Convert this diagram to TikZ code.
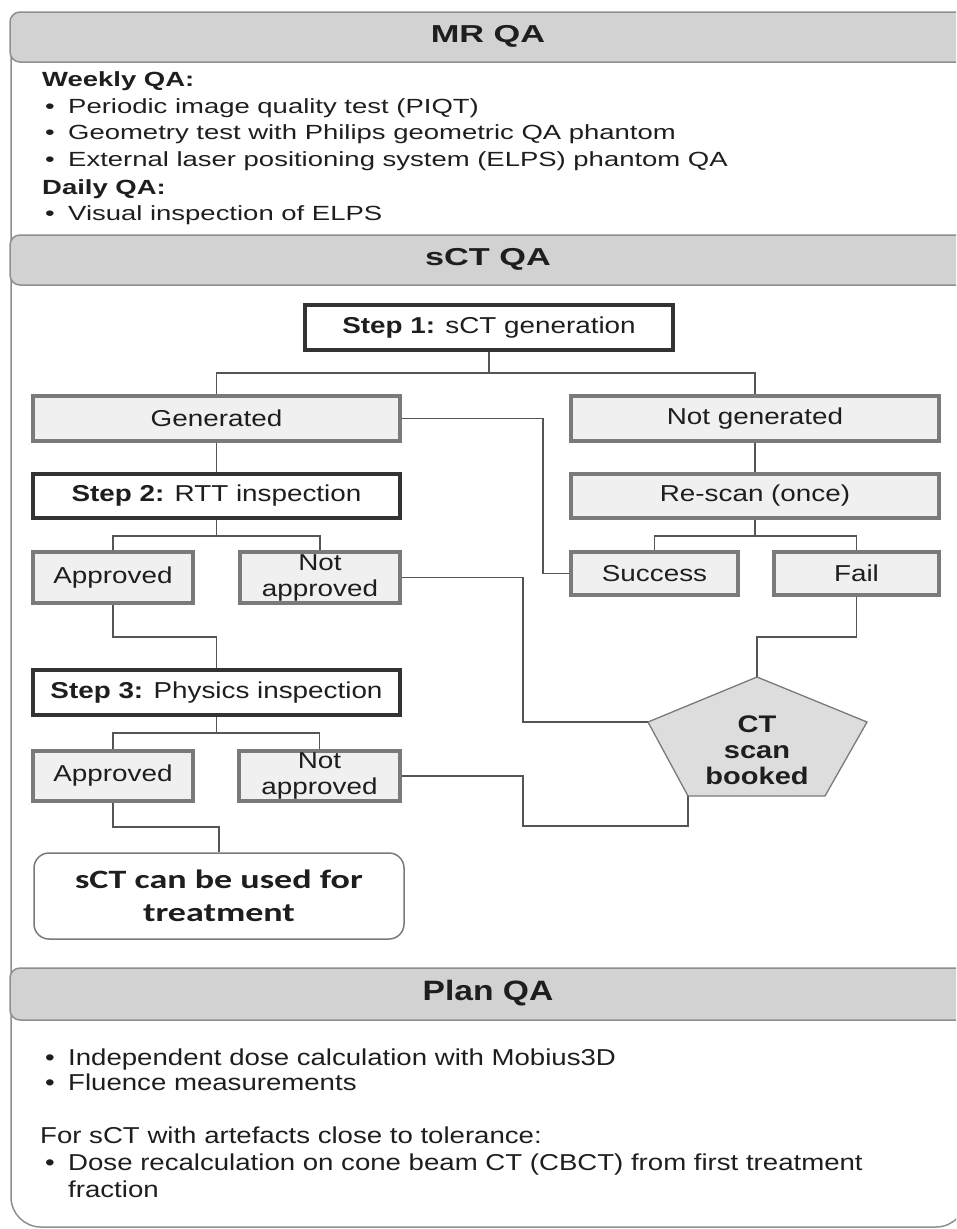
\documentclass[tikz,border=0pt]{standalone}
\usepackage{fontspec}
\setmainfont{Liberation Sans}
\newfontfamily\mrfont{Liberation Sans}[FakeStretch=1.34]
\newfontfamily\flowfont{Liberation Sans}[FakeStretch=1.21]
\newfontfamily\planfont{Liberation Sans}[FakeStretch=1.2]
\newfontfamily\hdfont{Liberation Sans}[FakeStretch=1.4]
\newfontfamily\planhdfont{Liberation Sans}[FakeStretch=1.2]
\newfontfamily\calfont{Carlito}[FakeStretch=1.36]
\definecolor{hdfill}{HTML}{D2D2D2}
\definecolor{hdline}{HTML}{8F8F8F}
\definecolor{boxfill}{HTML}{F0F0F0}
\definecolor{boxline}{HTML}{7A7A7A}
\definecolor{stepline}{HTML}{333333}
\definecolor{connc}{HTML}{555555}
\definecolor{txt}{HTML}{1E1E1E}
\definecolor{pentfill}{HTML}{DDDDDD}
\begin{document}
\begin{tikzpicture}[x=1pt,y=-1pt,
  header/.style={draw=hdline, line width=1.5pt, fill=hdfill, rounded corners=10pt},
  hdtext/.style={font=\hdfont\bfseries\fontsize{24.5}{28}\selectfont, text=txt, inner sep=0},
  mrline/.style={anchor=base west, inner sep=0, text=txt, font=\mrfont\fontsize{20.5}{27}\selectfont},
  planline/.style={anchor=base west, inner sep=0, text=txt, font=\planfont\fontsize{23}{27}\selectfont},
  stepbox/.style={draw=stepline, line width=4pt, fill=white, inner sep=0, text=txt,
     font=\flowfont\fontsize{23}{27}\selectfont, minimum width=367pt, minimum height=45pt},
  graybox/.style={draw=boxline, line width=4pt, fill=boxfill, inner sep=0, text=txt, align=center,
     font=\flowfont\fontsize{23}{26}\selectfont, minimum width=367pt, minimum height=45pt},
  smallbox/.style={graybox, minimum width=160pt, minimum height=51pt},
  conn/.style={draw=connc, line width=1.5pt},
  endbox/.style={draw=boxline, line width=1.5pt, fill=white, rounded corners=15pt, align=center,
     minimum width=370pt, minimum height=86pt, inner sep=0, text=txt,
     font=\calfont\bfseries\fontsize{26.5}{33}\selectfont}
]
\useasboundingbox (0,0) rectangle (956,1229);
\clip (0,0) rectangle (956,1229);

% outer frame
\draw[draw=hdline, line width=1.5pt, rounded corners=30pt] (11,30) -- (11,1227) -- (966,1227) -- (966,30);

% headers
\draw[header] (10,12) rectangle (990,62);
\node[hdtext] (hmr) at (488,36) {MR QA};
\draw[header] (10,235) rectangle (990,285);
\node[hdtext] (hsct) at (488,259) {sCT QA};
\draw[header] (10,968) rectangle (990,1020);
\node[hdtext, font=\planhdfont\bfseries\fontsize{28}{30}\selectfont] (hplan) at (488,993) {Plan QA};

% MR QA text
\node[mrline] (mr1) at (42,86) {\bfseries Weekly QA:};
\node[mrline] (mr2) at (45,113) {\makebox[23pt][l]{•}Periodic image quality test (PIQT)};
\node[mrline] (mr3) at (45,139) {\makebox[23pt][l]{•}Geometry test with Philips geometric QA phantom};
\node[mrline] (mr4) at (45,166) {\makebox[23pt][l]{•}External laser positioning system (ELPS) phantom QA};
\node[mrline] (mr5) at (42,194) {\bfseries Daily QA:};
\node[mrline] (mr6) at (45,220) {\makebox[23pt][l]{•}Visual inspection of ELPS};

% flow chart
\node[stepbox, minimum width=368pt] (step1) at (489,327.5) {\textbf{Step 1:} sCT generation};
\node[graybox] (gen) at (216.5,418.5) {Generated};
\node[graybox, minimum width=368pt] (notgen) at (755,418.5) {Not generated};
\node[stepbox, minimum height=44pt] (step2) at (216.5,496) {\textbf{Step 2:} RTT inspection};
\node[graybox, minimum width=368pt, minimum height=44pt] (rescan) at (755,496) {Re-scan (once)};
\node[smallbox] (app1) at (113,577.5) {Approved};
\node[smallbox] (napp1) at (320,577.5) {Not\\approved};
\node[smallbox, minimum width=167pt, minimum height=43pt] (succ) at (654.5,573.5) {Success};
\node[smallbox, minimum width=165pt, minimum height=43pt] (fail) at (856.5,573.5) {Fail};
\node[stepbox] (step3) at (216.5,692.5) {\textbf{Step 3:} Physics inspection};
\node[smallbox, minimum height=50pt] (app2) at (113,776) {Approved};
\node[smallbox, minimum width=161pt, minimum height=50pt] (napp2) at (319.5,776) {Not\\approved};
\node[endbox] (final) at (219,896) {sCT can be used for\\treatment};

% pentagon
\coordinate (pTop) at (757,677);
\coordinate (pLeft) at (648,722);
\coordinate (pRight) at (867,722);
\coordinate (pBR) at (825,796);
\coordinate (pBL) at (688,796);
\draw[draw=boxline, line width=1.3pt, fill=pentfill] (pTop) -- (pRight) -- (pBR) -- (pBL) -- (pLeft) -- cycle;
\node[align=center, inner sep=0, text=txt, font=\flowfont\bfseries\fontsize{24}{26}\selectfont] (ct) at (757,750) {CT\\scan\\booked};

% connectors
\coordinate (j1) at (489,373);
\draw[conn] (step1.south) -- (j1);
\draw[conn] (gen.north) |- (j1) -| (notgen.north);
\coordinate (g1) at (543,418.5);
\draw[conn] (gen.east) -- (g1) |- (succ.west);
\draw[conn] (gen.south) -- (step2.north);
\draw[conn] (notgen.south) -- (rescan.north);
\coordinate (j2) at (216.5,536);
\draw[conn] (step2.south) -- (j2);
\draw[conn] (app1.north) |- (j2) -| (napp1.north);
\coordinate (j3) at (755,536);
\draw[conn] (rescan.south) -- (j3);
\draw[conn] (succ.north) |- (j3) -| (fail.north);
\coordinate (n1) at (523,722);
\draw[conn] (napp1.east) -| (n1) -- (pLeft);
\coordinate (f1) at (757,637);
\draw[conn] (fail.south) |- (f1) -- (pTop);
\coordinate (a1) at (216.5,637);
\draw[conn] (app1.south) |- (a1) -- (step3.north);
\coordinate (j4) at (216.5,733);
\draw[conn] (step3.south) -- (j4);
\draw[conn] (app2.north) |- (j4) -| (napp2.north);
\coordinate (n2) at (523,826);
\draw[conn] (napp2.east) -| (n2) -| (pBL);
\coordinate (a2) at (219,827);
\draw[conn] (app2.south) |- (a2) -- (final.north);

% Plan QA text
\node[planline] (p1) at (45,1065) {\makebox[23pt][l]{•}Independent dose calculation with Mobius3D};
\node[planline] (p2) at (45,1090) {\makebox[23pt][l]{•}Fluence measurements};
\node[planline] (p3) at (40,1143) {For sCT with artefacts close to tolerance:};
\node[planline] (p4) at (45,1170) {\makebox[23pt][l]{•}Dose recalculation on cone beam CT (CBCT) from first treatment};
\node[planline] (p5) at (68,1197) {fraction};
\end{tikzpicture}
\end{document}
